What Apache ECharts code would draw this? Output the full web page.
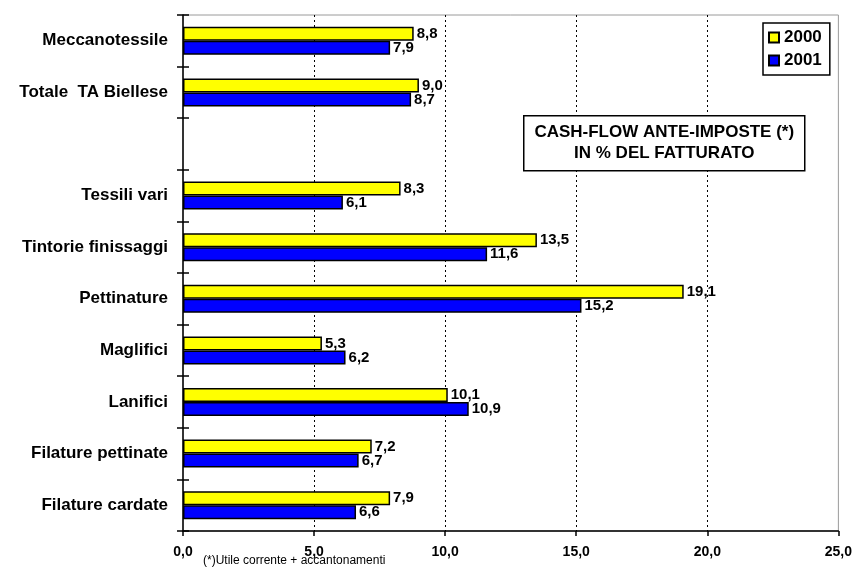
<!DOCTYPE html>
<html>
<head>
<meta charset="utf-8">
<script src="https://cdn.jsdelivr.net/npm/echarts@6/dist/echarts.min.js"></script>
<style>
  html, body { margin: 0; padding: 0; background: #fff; }
  #chart { width: 855px; height: 572px; }
</style>
</head>
<body>
<div id="chart"></div>
<script>
// Sectors, listed bottom to top (the blank entry separates the totals)
const categories = [
  'Filature cardate', 'Filature pettinate', 'Lanifici', 'Maglifici',
  'Pettinature', 'Tintorie finissaggi', 'Tessili vari', '',
  'Totale  TA Biellese', 'Meccanotessile'
];
// Cash-flow before taxes as % of turnover
const values2000 = [7.9, 7.2, 10.1, 5.3, 19.1, 13.5, 8.3, null, 9.0, 8.8];
const values2001 = [6.6, 6.7, 10.9, 6.2, 15.2, 11.6, 6.1, null, 8.7, 7.9];
const seriesNames = ['2000', '2001'];
const xTicks = { min: 0, max: 25, interval: 5 };

const FONT = 'Liberation Sans, Arial, sans-serif';
const fmt = v => Number(v).toFixed(1).replace('.', ',');

const chart = echarts.init(document.getElementById('chart'));

const barLabel = {
  show: true,
  position: 'right',
  distance: 3,
  color: '#000',
  fontFamily: FONT,
  fontWeight: 'bold',
  fontSize: 15,
  formatter: p => fmt(p.value)
};

chart.setOption({
  animation: false,
  backgroundColor: '#fff',
  grid: {
    left: 183, right: 16, top: 15, bottom: 41,
    show: true, borderColor: '#9a9a9a', borderWidth: 1, backgroundColor: 'transparent'
  },
  legend: {
    orient: 'vertical',
    left: 763, top: 23,
    padding: [6, 8, 6, 5],
    itemGap: 6,
    itemWidth: 10, itemHeight: 10,
    icon: 'rect',
    backgroundColor: '#fff',
    borderColor: '#000',
    borderWidth: 1.5,
    textStyle: { fontFamily: FONT, fontWeight: 'bold', fontSize: 17, color: '#000', padding: [0, 0, 0, 0] },
    data: seriesNames
  },
  xAxis: {
    type: 'value',
    min: xTicks.min, max: xTicks.max, interval: xTicks.interval,
    axisLine: { show: true, lineStyle: { color: '#000', width: 1.5 } },
    axisTick: { show: true, length: 5, lineStyle: { color: '#000', width: 1.5 } },
    axisLabel: {
      margin: 14, color: '#000', fontFamily: FONT, fontWeight: 'bold', fontSize: 14,
      formatter: v => fmt(v)
    },
    splitLine: {
      show: true, showMinLine: false, showMaxLine: false,
      lineStyle: { color: '#000', type: [2, 3], width: 1 }
    }
  },
  yAxis: [
    {
      type: 'category',
      data: categories,
      axisLine: { show: true, lineStyle: { color: '#000', width: 1.5 } },
      axisTick: { show: true, length: 6, lineStyle: { color: '#000', width: 1.5 } },
      axisLabel: { margin: 15, color: '#000', fontFamily: FONT, fontWeight: 'bold', fontSize: 17 },
      splitLine: { show: false }
    },
    {
      // Mirror axis: inward ticks so each tick crosses the axis line
      type: 'category',
      position: 'left',
      offset: 0,
      data: categories,
      axisLine: { show: false },
      axisTick: { show: true, inside: true, length: 6, lineStyle: { color: '#000', width: 1.5 } },
      axisLabel: { show: false },
      splitLine: { show: false }
    }
  ],
  series: [
    {
      name: seriesNames[0],
      type: 'bar',
      yAxisIndex: 0,
      data: values2000,
      barWidth: 14,
      barGap: '0%',
      itemStyle: { color: '#ffff00', borderColor: '#000', borderWidth: 1.5 },
      label: barLabel
    },
    {
      name: seriesNames[1],
      type: 'bar',
      yAxisIndex: 0,
      data: values2001,
      barWidth: 14,
      barGap: '0%',
      itemStyle: { color: '#0000ff', borderColor: '#000', borderWidth: 1.5 },
      label: barLabel
    }
  ],
  graphic: [
    {
      type: 'group',
      left: 523, top: 115,
      z: 100,
      children: [
        {
          type: 'rect',
          z: 100,
          shape: { x: 0, y: 0, width: 281, height: 55 },
          style: { fill: '#fff', stroke: '#000', lineWidth: 1.5 }
        },
        {
          type: 'text',
          z: 101,
          x: 140.5, y: 27.5,
          style: {
            text: 'CASH-FLOW ANTE-IMPOSTE (*)\nIN % DEL FATTURATO',
            align: 'center', verticalAlign: 'middle',
            fontFamily: FONT, fontWeight: 'bold', fontSize: 17, lineHeight: 21,
            fill: '#000'
          }
        }
      ]
    },
    {
      type: 'text',
      left: 203, top: 555,
      z: 100,
      style: {
        text: '(*)Utile corrente + accantonamenti',
        fontFamily: FONT, fontSize: 12, fill: '#000'
      }
    }
  ]
});
</script>
</body>
</html>
